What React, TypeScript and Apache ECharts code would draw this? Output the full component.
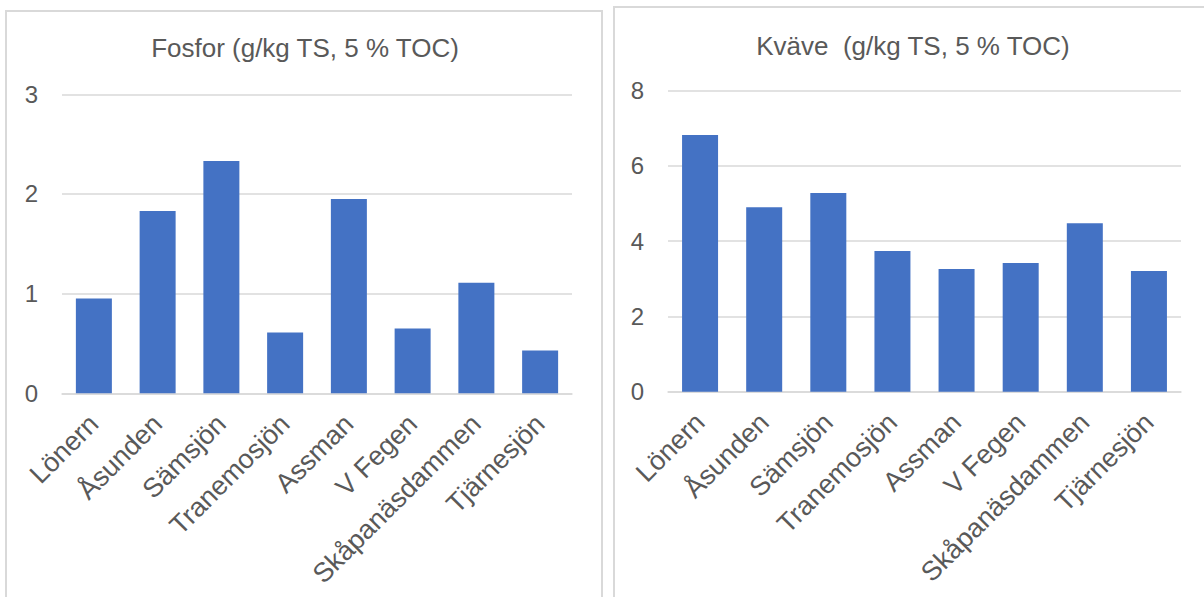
import React, { useEffect, useRef } from 'react';
import * as echarts from 'echarts';

const categories = ['Lönern', 'Åsunden', 'Sämsjön', 'Tranemosjön', 'Assman', 'V Fegen', 'Skåpanäsdammen', 'Tjärnesjön'];
const fosfor = [0.95, 1.83, 2.33, 0.61, 1.95, 0.65, 1.11, 0.43];
const kvave = [6.82, 4.9, 5.28, 3.74, 3.26, 3.42, 4.48, 3.21];
const titleFosfor = 'Fosfor (g/kg TS, 5 % TOC)';
const titleKvave = 'Kväve  (g/kg TS, 5 % TOC)';

const FONT = "'Liberation Sans', Arial, sans-serif";
const TEXT = '#595959';
const GRID = '#d9d9d9';
const BAR = '#4472c4';

export default function App() {
  const ref = useRef<HTMLDivElement>(null);
  useEffect(() => {
    const chart = echarts.init(ref.current!, null, { renderer: 'svg', width: 1204, height: 597 });
    const xAxisBase = (gridIndex: number) => ({
      type: 'category' as const,
      gridIndex,
      data: categories,
      axisLine: { show: true, lineStyle: { color: GRID, width: 1.5 } },
      axisTick: { show: false },
      axisLabel: {
        rotate: 45,
        interval: 0,
        margin: 26,
        fontSize: 27,
        color: TEXT,
        fontFamily: FONT,
      },
    });
    const yAxisBase = (gridIndex: number, max: number, interval: number) => ({
      type: 'value' as const,
      gridIndex,
      min: 0,
      max,
      interval,
      axisLine: { show: false },
      axisTick: { show: false },
      splitLine: { lineStyle: { color: GRID, width: 1.5 } },
      axisLabel: { margin: 24, fontSize: 24, color: TEXT, fontFamily: FONT },
    });
    chart.setOption({
      animation: false,
      backgroundColor: '#ffffff',
      textStyle: { fontFamily: FONT },
      graphic: [
        { type: 'rect', shape: { x: 6, y: 11, width: 596, height: 620 }, style: { fill: 'none', stroke: GRID, lineWidth: 2 } },
        { type: 'rect', shape: { x: 614, y: 7, width: 620, height: 620 }, style: { fill: 'none', stroke: GRID, lineWidth: 2 } },
        { type: 'text', x: 305, y: 48, style: { text: titleFosfor, fontSize: 26, fill: TEXT, fontFamily: FONT, align: 'center', verticalAlign: 'middle' } },
        { type: 'text', x: 913, y: 46, style: { text: titleKvave, fontSize: 26, fill: TEXT, fontFamily: FONT, align: 'center', verticalAlign: 'middle' } },
      ],
      grid: [
        { left: 62, top: 94.3, width: 510, height: 299 },
        { left: 668, top: 90.7, width: 513, height: 301 },
      ],
      xAxis: [xAxisBase(0), xAxisBase(1)],
      yAxis: [yAxisBase(0, 3, 1), yAxisBase(1, 8, 2)],
      series: [
        { type: 'bar', xAxisIndex: 0, yAxisIndex: 0, data: fosfor, barWidth: 36, itemStyle: { color: BAR } },
        { type: 'bar', xAxisIndex: 1, yAxisIndex: 1, data: kvave, barWidth: 36, itemStyle: { color: BAR } },
      ],
    });
    return () => chart.dispose();
  }, []);
  return (
    <div
      ref={ref}
      style={{ position: 'fixed', left: 0, top: 0, width: 1204, height: 597, background: '#fff' }}
    />
  );
}
